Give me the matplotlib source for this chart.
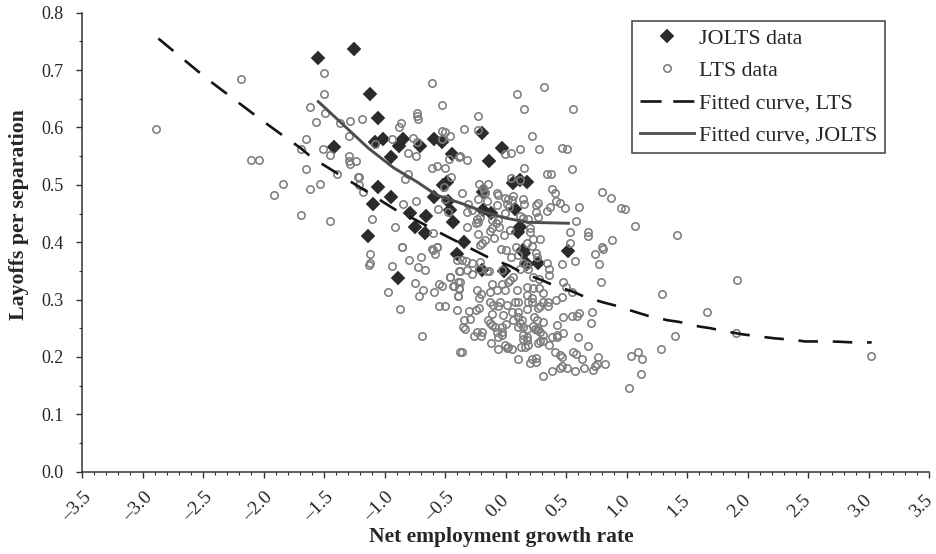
import matplotlib
matplotlib.use("Agg")
import matplotlib.pyplot as plt
from matplotlib.lines import Line2D
from matplotlib.ticker import MultipleLocator
from matplotlib.transforms import ScaledTranslation

plt.rcParams['font.family'] = ['Liberation Serif', 'DejaVu Serif']

x_ticks = [-3.5, -3.0, -2.5, -2.0, -1.5, -1.0, -0.5, 0.0, 0.5, 1.0, 1.5, 2.0, 2.5, 3.0, 3.5]
x_tick_labels = ['–3.5', '–3.0', '–2.5', '–2.0', '–1.5', '–1.0', '–0.5', '0.0', '0.5', '1.0', '1.5', '2.0', '2.5', '3.0', '3.5']
y_ticks = [0.0, 0.1, 0.2, 0.3, 0.4, 0.5, 0.6, 0.7, 0.8]

lts_points = [
(-2.888,.597),(-2.19,.685),(-1.497,.695),(-1.497,.658),(-1.616,.635),(-1.49,.625),(-1.569,.61),(-1.368,.607),(-1.285,.612),(-1.296,.585),
(-1.651,.58),(-1.687,.562),(-1.508,.562),(-1.45,.552),(-1.296,.55),(-1.296,.542),(-1.285,.537),(-1.235,.542),(-2.106,.544),(-2.035,.544),
(-1.651,.527),(-1.39,.519),(-1.216,.514),(-1.842,.502),(-1.533,.502),(-1.616,.492),(-1.913,.482),(-1.687,.447),(-1.45,.437),
(-.607,.677),(-.525,.640),(-.734,.625),(-.734,.620),(-.723,.615),(-1.189,.615),(-.866,.607),(-.88,.600),(-.938,.580),(-1.079,.571),
(-.762,.582),(-.734,.575),(-.528,.594),(-.497,.592),(-.462,.585),(-.528,.579),(-.809,.555),(-.737,.550),(-.464,.545),(-.384,.549),
(-.607,.530),(-.569,.532),(-.497,.530),(-.806,.519),(-.833,.510),(-.450,.514),(-1.214,.514),(-1.214,.500),(-1.175,.487),(-.508,.496),
(-.844,.467),(-.737,.472),(-.558,.457),(-.497,.476),(-.473,.453),(-1.103,.440),(-.916,.427),(-.855,.392),(-.597,.416),(-.610,.389),(-.569,.392),
(.321,.670),(.098,.658),(.156,.633),(.561,.633),(-.227,.620),(-.343,.597),(-.224,.595),(.217,.585),(.120,.562),(.274,.562),(.464,.565),(.511,.562),
(-.001,.553),(.046,.555),(-.378,.550),(-.318,.543),(.156,.530),(.346,.519),(.374,.519),(.547,.528),(.046,.512),(.120,.508),(-.216,.502),(-.142,.502),
(-.183,.494),(-.177,.490),(-.169,.486),(-.067,.485),(-.059,.483),(-.356,.485),(.382,.492),(.407,.485),(.798,.487),(.869,.477),(.955,.459),(.991,.457),(1.071,.429),
(-.224,.475),(-.15,.471),(-.307,.467),(-.004,.477),(.024,.475),(.062,.480),(.057,.473),(.010,.467),(.032,.462),(.145,.476),(.156,.467),(-.073,.465),
(.272,.468),(.25,.465),(.25,.452),(.272,.444),(.341,.454),(.371,.462),(.415,.472),(.451,.468),(.489,.459),(.608,.462),(.58,.437),(-.321,.452),(-.274,.456),(-.004,.451),
(-.21,.444),(-.232,.440),(-.224,.436),(-.243,.433),(.12,.446),(.142,.443),(.183,.440),(-.108,.439),(-.059,.439),(-.081,.433),(-.056,.427),(-.321,.427),(-.114,.424),(-.128,.419),
(.038,.421),(-.224,.414),(-.012,.412),(-.092,.407),(-.166,.403),(-.197,.398),(-.21,.395),(.203,.424),(.203,.418),(.23,.405),(.285,.405),(.181,.399),(.217,.393),
(.536,.417),(.536,.399),(.679,.417),(.679,.411),(.88,.404),(.798,.392),(.809,.389),(-.037,.389),(.002,.386),(.084,.392),
(-.856,.392),(-1.117,.379),(-.602,.387),(-.566,.392),(-.583,.379),(-1.117,.364),(-1.131,.361),(-.938,.359),(-.798,.369),(-.701,.374),(-.723,.357),(-.668,.352),
(-.385,.349),(-.462,.339),(-.748,.329),(-.547,.327),(-.522,.324),(-.429,.324),(-.382,.320),(-.39,.331),(-.974,.314),(-.679,.316),(-.715,.307),(-.594,.314),(-.396,.307),
(-.869,.284),(-.547,.289),(-.5,.289),(-.404,.282),(-.69,.236),(-.376,.208),
(.043,.375),(.106,.377),(.25,.381),(.258,.375),(.572,.367),(.74,.379),(.773,.362),(.465,.362),(.346,.363),(.36,.354),(.36,.343),
(-.403,.369),(-.356,.369),(-.326,.368),(-.279,.364),(-.21,.366),(-.216,.354),(-.376,.35),(-.321,.352),(-.279,.345),(-.136,.35),(-.155,.349),(-.026,.352),
(.06,.34),(.038,.334),(.024,.33),(.148,.363),(.12,.354),(.181,.36),(.189,.354),(.23,.339),(.277,.335),(.181,.322),(.225,.321),(.277,.32),
(-.458,.339),(-.376,.331),(-.431,.324),(-.381,.319),(-.389,.306),(.478,.331),(.5,.322),(.787,.33),(.55,.314),(.095,.317),
(-.108,.327),(-.031,.327),(-.128,.314),(-.073,.317),(-.004,.317),(-.238,.317),(-.202,.310),(-.219,.302),(.313,.312),
(-.128,.296),(-.106,.291),(-.045,.296),(-.059,.288),(.01,.291),(.079,.295),(.106,.295),(.181,.308),(.217,.302),(.189,.296),(.217,.296),
(.465,.304),(.415,.299),(.354,.296),(.354,.288),(.313,.296),(.285,.288),(.272,.285),(.181,.284),(-.114,.275),(-.018,.273),(.051,.279),(.106,.279),
(-.299,.28),(-.243,.282),(-.219,.285),(-.293,.266),(-.343,.264),(-.142,.264),(-.128,.259),(-.114,.256),(-.348,.252),(-.334,.249),
(-.232,.244),(-.197,.244),(-.202,.237),(-.257,.237),(-.086,.252),(-.031,.252),(-.073,.244),(-.031,.244),(-.059,.235),(-.031,.238),(.004,.257),
(.065,.264),(.106,.27),(.134,.264),(.12,.259),(.106,.252),(.148,.253),(.236,.27),(.258,.264),(.313,.261),(.23,.254),(.175,.248),(.244,.248),(.272,.248),
(.423,.256),(.478,.269),(.547,.271),(.588,.271),(.61,.277),(.718,.279),(.704,.259),(.6,.234),(.679,.219),(.478,.241),(.429,.239),(.423,.235),(.382,.235),
(.285,.244),(.313,.238),(.258,.247),(.148,.238),(.175,.235),(.148,.231),(.181,.23),(.285,.227),(.307,.227),(.272,.224),(.36,.221),(.189,.221),(.161,.218),(.126,.218),
(-.12,.224),(-.059,.214),(-.004,.221),(.024,.218),(.01,.215),(.051,.214),(-.356,.209),(.106,.196),(.409,.209),(.451,.203),(.465,.2),(.561,.209),(.58,.205),(.635,.196),(.765,.2),
(.203,.189),(.217,.196),(.252,.199),(.252,.192),(.382,.176),(.307,.167),(.465,.184),(.451,.18),(.511,.181),(.572,.176),(.652,.181),(.726,.178),(.74,.184),(.754,.188),(.823,.188),
(1.916,.334),(1.296,.309),(1.663,.279),(1.902,.241),(1.404,.2365),(1.282,.214),(1.098,.208),(1.034,.202),(1.128,.196),(1.117,.171),(1.023,.146),(3.02,.202),(1.417,.412),
]
lts_x = [p[0] for p in lts_points]
lts_y = [p[1] for p in lts_points]

jolts_x = [-1.552,-1.255,-1.42,-1.123,-1.051,-1.079,-1.015,-.85,-.877,-.707,-.591,-.528,-.445,-.944,-.486,-.519,-1.051,-.944,-1.098,-.591,-.473,-.459,-.789,-.66,-.437,-.745,-.663,-1.134,-.886,
           -.191,-.031,-.136,.06,.12,.181,-.183,-.188,-.122,.079,.12,.106,-.343,.52,.148,-.398,.156,-.197,-.012,.272,.175]
jolts_y = [.721,.736,.566,.659,.617,.575,.579,.579,.568,.567,.579,.574,.554,.549,.5055,.4997,.496,.479,.466,.479,.471,.456,.451,.446,.436,.426,.416,.411,.338,
           .591,.564,.5415,.5026,.508,.5055,.488,.456,.451,.457,.427,.418,.401,.384,.386,.379,.382,.352,.35,.364,.362]

fit_lts_x = [-2.869,-2.663,-2.456,-2.236,-2.03,-1.808,-1.693,-1.597,-1.368,-1.244,-1.12,-1.004,-.905,-.753,-.638,-.492,-.128,.032,.134,.299,.396,.555,.652,.809,.919,1.079,1.172,1.34,1.437,1.602,1.696,1.806,1.96,2.125,2.227,2.373,2.475,2.649,2.751,2.902,3.026]
fit_lts_y = [.755,.719,.683,.648,.615,.581,.564,.547,.517,.501,.485,.469,.456,.44,.427,.411,.372,.359,.347,.334,.325,.314,.305,.295,.289,.278,.272,.264,.261,.253,.25,.245,.2394,.235,.2324,.23,.227,.227,.2266,.225,.2254]

fit_jolts_x = [-1.547,-1.368,-1.134,-.927,-.734,-.569,-.348,-.183,.010,.189,.52]
fit_jolts_y = [.645,.610,.564,.53,.5055,.482,.4665,.453,.4416,.4346,.433]

TXT = '#262626'
W, H = 936, 554
fig = plt.figure(figsize=(W/100, H/100), dpi=100)
ax = fig.add_axes([82/W, 1-471.7/H, (929-82)/W, (471.7-12.7)/H])
ax.set_xlim(-3.5, 3.5)
ax.set_ylim(0, 0.8)

ax.plot(jolts_x, jolts_y, ls='none', marker='D', ms=7.2, mfc='#2b2b2b', mec='#2b2b2b', mew=0.3, zorder=2)
ax.plot(lts_x, lts_y, ls='none', marker='o', ms=5.3, mfc='none', mec='#7d7d7d', mew=1.15, zorder=3)
ax.plot(fit_lts_x, fit_lts_y, color='#141414', lw=1.9, dashes=(7.4, 5.6), dash_capstyle='butt', zorder=4)
ax.plot(fit_jolts_x, fit_jolts_y, color='#4d4d4d', lw=2.1, zorder=5)

for s in ('top', 'right'):
    ax.spines[s].set_visible(False)
for s in ('left', 'bottom'):
    ax.spines[s].set_color('#333333')
    ax.spines[s].set_linewidth(1.1)

ax.set_xticks(x_ticks)
ax.set_xticklabels(x_tick_labels, rotation=45, ha='center', va='center', fontsize=14, color=TXT)
ax.xaxis.set_minor_locator(MultipleLocator(0.1))
ax.set_yticks(y_ticks)
ax.set_yticklabels([f'{v:.1f}' for v in y_ticks], fontsize=13, color=TXT)
ax.yaxis.set_minor_locator(MultipleLocator(0.05))
ax.tick_params(axis='both', which='major', length=4, width=1.0, color='#333333')
ax.tick_params(axis='both', which='minor', length=2.5, width=0.8, color='#333333')
ax.tick_params(axis='x', which='major', pad=21)
ax.tick_params(axis='y', which='major', pad=9)
for lab, text in zip(ax.get_xticklabels(), x_tick_labels):
    dx = -5 if text.startswith('–') else -8
    lab.set_transform(lab.get_transform() + ScaledTranslation(dx/100, 0, fig.dpi_scale_trans))

ax.set_xlabel('Net employment growth rate', fontsize=15.5, fontweight='bold', color=TXT)
ax.xaxis.set_label_coords((501-82)/847, -(537-471.7)/459, transform=ax.transAxes)
ax.xaxis.label.set_va('center')
ax.set_ylabel('Layoffs per separation', fontsize=15.7, fontweight='bold', color=TXT)
ax.yaxis.set_label_coords((19-82)/847, (471.7-215)/459, transform=ax.transAxes)
ax.yaxis.label.set_va('center')

handles = [
    Line2D([], [], ls='none', marker='D', ms=7.2, mfc='#2b2b2b', mec='#2b2b2b', mew=0.3),
    Line2D([], [], ls='none', marker='o', ms=5.3, mfc='none', mec='#7d7d7d', mew=1.15),
    Line2D([], [], color='#141414', lw=1.9, dashes=(8.0, 4.4), dash_capstyle='butt'),
    Line2D([], [], color='#555555', lw=2.1),
]
labels = ['JOLTS data', 'LTS data', 'Fitted curve, LTS', 'Fitted curve, JOLTS']
leg = ax.legend(handles, labels, loc='upper left',
                bbox_to_anchor=((632.3-82)/847, (471.7-21)/459), bbox_transform=ax.transAxes,
                borderaxespad=0, frameon=True, fancybox=False, framealpha=1,
                edgecolor='#404040', fontsize=15.8, labelcolor=TXT,
                handlelength=2.5, handletextpad=0.23, labelspacing=0.55, borderpad=0.33, numpoints=1)
leg.get_frame().set_linewidth(1.1)

fig.savefig('out.png', dpi=100)
